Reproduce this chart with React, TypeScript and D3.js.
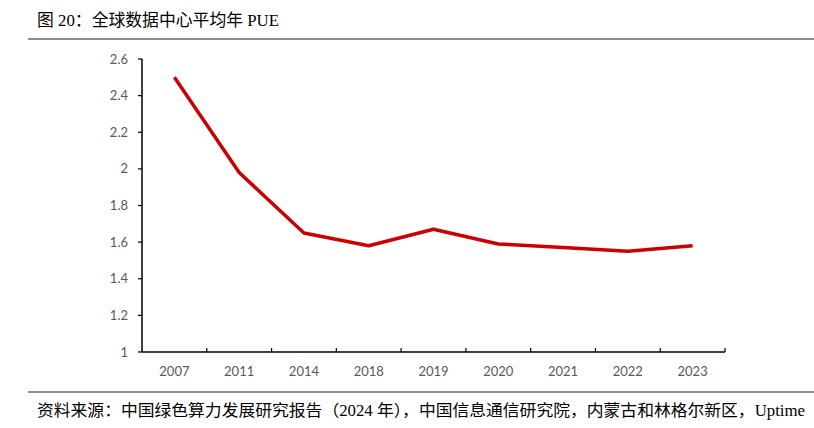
import React from "react";
import * as d3 from "d3";

const categories = ["2007", "2011", "2014", "2018", "2019", "2020", "2021", "2022", "2023"];
const pueValues = [2.5, 1.98, 1.65, 1.58, 1.67, 1.59, 1.57, 1.55, 1.58];
const yTicks = [1, 1.2, 1.4, 1.6, 1.8, 2, 2.2, 2.4, 2.6];
const titleText = "图 20：全球数据中心平均年 PUE";
const sourceText = "资料来源：中国绿色算力发展研究报告（2024 年），中国信息通信研究院，内蒙古和林格尔新区，Uptime";

export default function App() {
  const W = 814, H = 428;
  const left = 142, right = 725, top = 59, bottom = 352;
  const x = d3.scaleBand<string>().domain(categories).range([left, right]);
  const y = d3.scaleLinear().domain([1, 2.6]).range([bottom, top]);
  const line = d3
    .line<number>()
    .x((_, i) => (x(categories[i]) as number) + x.bandwidth() / 2)
    .y((d) => y(d));
  const textFont = "'Liberation Serif', 'Noto Sans CJK SC', serif";
  const axisFont = "Lato, 'Open Sans', sans-serif";
  return (
    <svg width={W} height={H} style={{ position: "absolute", left: 0, top: 0, background: "#fff" }}>
      <text x={37} y={26} fontFamily={textFont} fontSize={17} fill="#000" textLength={242} lengthAdjust="spacingAndGlyphs">
        {titleText}
      </text>
      <line x1={28} x2={814} y1={39} y2={39} stroke="#8c8c8c" strokeWidth={2} />
      {yTicks.map((t) => (
        <g key={t}>
          <line x1={left - 4} x2={left} y1={y(t)} y2={y(t)} stroke="#000" strokeWidth={1.2} />
          <text x={128} y={y(t)} dy="0.35em" textAnchor="end" fontFamily={axisFont} fontSize={13} fill="#595959">
            {d3.format("~g")(t)}
          </text>
        </g>
      ))}
      {categories.map((c) => (
        <g key={c}>
          <line
            x1={(x(c) as number) + x.bandwidth()}
            x2={(x(c) as number) + x.bandwidth()}
            y1={bottom}
            y2={bottom - 4}
            stroke="#000"
            strokeWidth={1.2}
          />
          <text
            x={(x(c) as number) + x.bandwidth() / 2}
            y={376}
            textAnchor="middle"
            fontFamily={axisFont}
            fontSize={13}
            fill="#595959"
          >
            {c}
          </text>
        </g>
      ))}
      <line x1={left} x2={left} y1={top} y2={bottom} stroke="#000" strokeWidth={1.5} />
      <line x1={left} x2={right} y1={bottom} y2={bottom} stroke="#000" strokeWidth={1.5} />
      <path d={line(pueValues) || ""} fill="none" stroke="#CC0000" strokeWidth={3.5} strokeLinejoin="round" />
      <line x1={28} x2={814} y1={392} y2={392} stroke="#8c8c8c" strokeWidth={2} />
      <text x={37} y={416} fontFamily={textFont} fontSize={16} fill="#000" textLength={768} lengthAdjust="spacingAndGlyphs">
        {sourceText}
      </text>
    </svg>
  );
}
